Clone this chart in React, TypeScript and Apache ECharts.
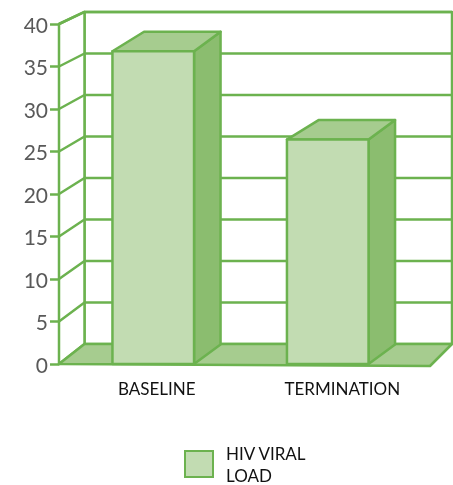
import React, { useEffect, useRef } from 'react';
import * as echarts from 'echarts';

const categories = ['BASELINE', 'TERMINATION'];
const viralLoad = [36.8, 26.4];
const gridValues = [5, 10, 15, 20, 25, 30, 35, 40];
const seriesName = 'HIV VIRAL LOAD';

const LINE = '#6cb24f';
const FRONT = '#c2dcb2';
const TOP = '#a6cc8f';
const SIDE = '#8bbd6f';
const FLOOR = '#a6cc8f';

export default function App() {
  const ref = useRef<HTMLDivElement>(null);
  useEffect(() => {
    const chart = echarts.init(ref.current!, null, { renderer: 'svg' });

    const mk = (cs: any) => {
      const gx = cs.x, gy = cs.y, gw = cs.width, gh = cs.height;
      const y0 = gy + gh;
      const bx = (x: number) => x + 25.5 - (x - gx) * (3.5 / gw);
      const by = (fy: number) => (y0 - 20) + (fy - y0) * 0.9765;
      return { gx, gy, gw, gh, y0, bx, by };
    };
    const stroke = { stroke: LINE, lineWidth: 2.5, lineJoin: 'round' };

    const option: any = {
      animation: false,
      textStyle: { fontFamily: 'Lato' },
      legend: {
        data: [seriesName],
        left: 179,
        top: 437,
        icon: 'rect',
        itemWidth: 28,
        itemHeight: 26,
        formatter: () => 'HIV VIRAL\nLOAD',
        textStyle: { fontSize: 17, lineHeight: 22, color: '#111', padding: [0, 0, 0, 8], fontFamily: 'Lato' },
        selectedMode: false,
      },
      grid: [
        { left: 59, right: 23, top: 24, bottom: 121 },
        { left: 66, right: 38, top: 24, bottom: 121 },
      ],
      xAxis: [
        {
          type: 'category', gridIndex: 0, data: categories,
          axisLine: { show: false }, axisTick: { show: false },
          axisLabel: { fontSize: 17, color: '#111', margin: 16, padding: [0, 0, 0, 10], fontFamily: 'Lato' },
        },
        { type: 'category', gridIndex: 1, data: categories, show: false },
      ],
      yAxis: [
        {
          type: 'value', gridIndex: 0, min: 0, max: 40, interval: 5,
          axisLine: { show: true, lineStyle: { color: LINE, width: 2.5 } },
          axisTick: { show: true, length: 9, lineStyle: { color: LINE, width: 2.5 } },
          axisLabel: { fontSize: 21, color: '#595959', margin: 11, fontFamily: 'Lato' },
          splitLine: { show: false },
        },
        { type: 'value', gridIndex: 1, min: 0, max: 40, interval: 5, show: false },
      ],
      series: [
        {
          type: 'custom', name: 'walls', xAxisIndex: 0, yAxisIndex: 0, silent: true, clip: false,
          data: [[0, 0]],
          renderItem: (params: any) => {
            const g = mk(params.coordSys);
            const { gx, gy, gw, y0, bx, by } = g;
            return {
              type: 'group',
              children: [
                {
                  type: 'polygon',
                  shape: { points: [[bx(gx), by(gy)], [bx(gx + gw), by(gy)], [bx(gx + gw), by(y0)], [bx(gx), by(y0)]] },
                  style: { fill: '#ffffff', ...stroke },
                },
                {
                  type: 'polygon',
                  shape: { points: [[gx, y0], [gx, gy], [bx(gx), by(gy)], [bx(gx), by(y0)]] },
                  style: { fill: '#ffffff', ...stroke },
                },
              ],
            };
          },
        },
        {
          type: 'custom', name: 'gridlines', xAxisIndex: 0, yAxisIndex: 0, silent: true, clip: false,
          data: gridValues.map((v) => [0, v]),
          renderItem: (params: any, api: any) => {
            const { gx, gw, bx, by } = mk(params.coordSys);
            const fy = api.coord([0, api.value(1)])[1];
            return {
              type: 'polyline',
              shape: { points: [[gx, fy], [bx(gx), by(fy)], [bx(gx + gw), by(fy)]] },
              style: { fill: 'none', ...stroke },
            };
          },
        },
        {
          type: 'custom', name: 'floor', xAxisIndex: 0, yAxisIndex: 0, silent: true, clip: false,
          data: [[0, 0]],
          renderItem: (params: any) => {
            const { gx, gw, y0, bx, by } = mk(params.coordSys);
            return {
              type: 'polygon',
              shape: { points: [[gx, y0], [gx + gw, y0 + 2], [bx(gx + gw), by(y0)], [bx(gx), by(y0)]] },
              style: { fill: FLOOR, ...stroke },
            };
          },
        },
        {
          type: 'custom', name: seriesName, xAxisIndex: 1, yAxisIndex: 1, silent: true, clip: false,
          itemStyle: { color: FRONT, borderColor: LINE, borderWidth: 2.5 },
          data: viralLoad.map((v, i) => [i, v]),
          renderItem: (params: any, api: any) => {
            const top = api.coord([api.value(0), api.value(1)]);
            const base = api.coord([api.value(0), 0]);
            const w = api.size([1, 0])[0] * 0.4676;
            const xl = top[0] - w / 2, xr = top[0] + w / 2;
            const yt = top[1], yb = base[1];
            const dy = -19.5;
            const xlb = xl + 31.6, xrb = xr + 26.5;
            return {
              type: 'group',
              children: [
                {
                  type: 'polygon',
                  shape: { points: [[xr, yt], [xrb, yt + dy], [xrb, yb + dy], [xr, yb]] },
                  style: { fill: SIDE, ...stroke },
                },
                {
                  type: 'polygon',
                  shape: { points: [[xl, yt], [xlb, yt + dy], [xrb, yt + dy], [xr, yt]] },
                  style: { fill: TOP, ...stroke },
                },
                {
                  type: 'polygon',
                  shape: { points: [[xl, yt], [xr, yt], [xr, yb], [xl, yb]] },
                  style: { fill: FRONT, ...stroke },
                },
              ],
            };
          },
        },
      ],
    };
    chart.setOption(option);
    return () => chart.dispose();
  }, []);
  return <div ref={ref} style={{ position: 'fixed', left: 0, top: 0, width: 453, height: 485 }} />;
}
